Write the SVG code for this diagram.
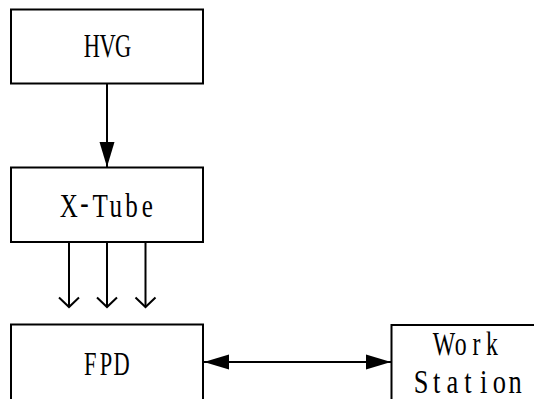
<svg xmlns="http://www.w3.org/2000/svg" width="534" height="399" viewBox="0 0 534 399">
<style>
.box{fill:#fff;stroke:#000;stroke-width:2}
.lbl{font-family:"Liberation Serif","DejaVu Serif",serif;font-size:33px;fill:#000;text-anchor:middle}
.ln{stroke:#000;stroke-width:2;fill:none}
</style>
<defs>
<marker id="solid" markerUnits="userSpaceOnUse" markerWidth="26" markerHeight="18" refX="25" refY="9" orient="auto-start-reverse" viewBox="0 0 26 18">
<path d="M0,1.5 L25,9 L0,16.5 Z" fill="#000"/>
</marker>
<marker id="open" markerUnits="userSpaceOnUse" markerWidth="24" markerHeight="24" refX="11" refY="12" orient="auto" viewBox="0 0 24 24">
<path d="M1.5,2 L11,12 L1.5,22" fill="none" stroke="#000" stroke-width="2"/>
</marker>
</defs>
<g id="connectors">
<line class="ln" x1="107" y1="84" x2="107" y2="167" marker-end="url(#solid)"/>
<line class="ln" x1="69" y1="242" x2="69" y2="307" marker-end="url(#open)"/>
<line class="ln" x1="107" y1="242" x2="107" y2="307" marker-end="url(#open)"/>
<line class="ln" x1="145.5" y1="242" x2="145.5" y2="307" marker-end="url(#open)"/>
<line class="ln" x1="204" y1="362" x2="391" y2="362" marker-start="url(#solid)" marker-end="url(#solid)"/>
</g>
<g id="hvg">
<rect class="box" x="11" y="9.5" width="192" height="74"/>
<text class="lbl" transform="translate(107.5,57) scale(0.68,1)" x="-23.1 0 23.1" y="0">HVG</text>
</g>
<g id="xtube">
<rect class="box" x="11" y="167.5" width="192" height="74.5"/>
<text class="lbl" transform="translate(108,217) scale(0.76,1)" x="-51.7" y="0">X<tspan x="-31" y="-3">-</tspan><tspan x="-10.3 10.3 31 51.7" y="0">Tube</tspan></text>
</g>
<g id="fpd">
<rect class="box" x="11" y="324.5" width="192" height="90"/>
<text class="lbl" transform="translate(106,375) scale(0.68,1)" x="-23.1 0 23.1" y="0">FPD</text>
</g>
<g id="workstation">
<rect class="box" x="391.5" y="325" width="160" height="90"/>
<text class="lbl" transform="translate(468.5,355) scale(0.72,1)" x="-34 -10.9 10.9 32.7" y="0">Work</text>
<text class="lbl" transform="translate(468,392.5) scale(0.8,1)" x="-58.8 -39.2 -19.6 0 19.6 39.2 58.8" y="0">Station</text>
</g>
</svg>
